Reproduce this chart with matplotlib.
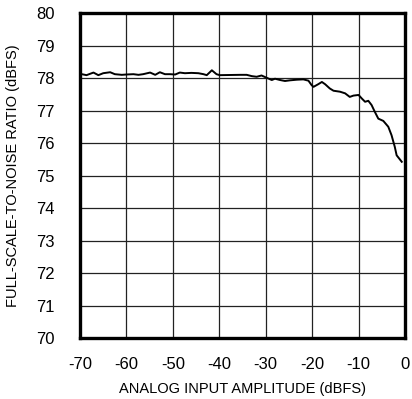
import matplotlib
matplotlib.use("Agg")
import matplotlib.pyplot as plt

plt.rcParams['font.family'] = ['Liberation Sans Narrow', 'Liberation Sans', 'DejaVu Sans']
plt.rcParams['axes.unicode_minus'] = False

# Data
amplitude_dbfs = [
    -69.6, -68.6, -67.1, -66.05, -65.0, -63.5, -62.5, -61.0, -60.0, -58.5,
    -57.4, -56.4, -54.9, -53.8, -52.8, -51.7, -50.6, -49.5, -48.5, -47.4,
    -46.0, -44.5, -43.4, -42.7, -41.6, -40.6, -39.9, -35.5, -34.1, -33.0,
    -31.95, -30.9, -29.8, -28.7, -28.0, -26.9, -25.85, -24.8, -23.3, -21.9,
    -20.8, -20.1, -19.7, -18.7, -17.9, -17.2, -16.2, -15.4, -14.0, -12.9,
    -11.9, -11.1, -10.0, -9.3, -8.6, -7.9, -7.2, -6.5, -5.75, -4.67,
    -3.6, -2.9, -2.2, -1.8, -0.7,
]
fs_noise_ratio = [
    78.13, 78.10, 78.18, 78.10, 78.16, 78.19, 78.13, 78.11, 78.12, 78.13,
    78.11, 78.13, 78.18, 78.11, 78.19, 78.13, 78.13, 78.12, 78.18, 78.16,
    78.17, 78.16, 78.13, 78.10, 78.25, 78.13, 78.10, 78.11, 78.11, 78.07,
    78.05, 78.09, 78.02, 77.95, 77.99, 77.95, 77.92, 77.94, 77.96, 77.97,
    77.93, 77.79, 77.74, 77.82, 77.89, 77.82, 77.69, 77.62, 77.59, 77.54,
    77.43, 77.47, 77.49, 77.38, 77.28, 77.31, 77.18, 76.97, 76.76, 76.69,
    76.51, 76.25, 75.89, 75.63, 75.43,
]
x_ticks = [-70, -60, -50, -40, -30, -20, -10, 0]
y_ticks = [70, 71, 72, 73, 74, 75, 76, 77, 78, 79, 80]

fig = plt.figure(figsize=(4.12, 3.99), dpi=100)
ax = fig.add_axes([80/412, 1-338/399, (405-80)/412, (338-13.5)/399])

ax.plot(amplitude_dbfs, fs_noise_ratio, color='black', lw=1.4, zorder=3)

ax.set_xlim(-70, 0)
ax.set_ylim(70, 80)
ax.set_xticks(x_ticks)
ax.set_yticks(y_ticks)
ax.grid(True, color='#222222', lw=0.9)
ax.tick_params(length=0, labelsize=12, pad=14)
ax.tick_params(axis='y', pad=18)
for s in ax.spines.values():
    s.set_linewidth(2.4)
    s.set_color('black')

ax.set_xlabel('ANALOG INPUT AMPLITUDE (dBFS)', fontsize=10.5, labelpad=7)
ax.set_ylabel('FULL-SCALE-TO-NOISE RATIO (dBFS)', fontsize=10.5)
ax.yaxis.set_label_coords(-0.185, 0.5)

fig.savefig('out.png', dpi=100)
